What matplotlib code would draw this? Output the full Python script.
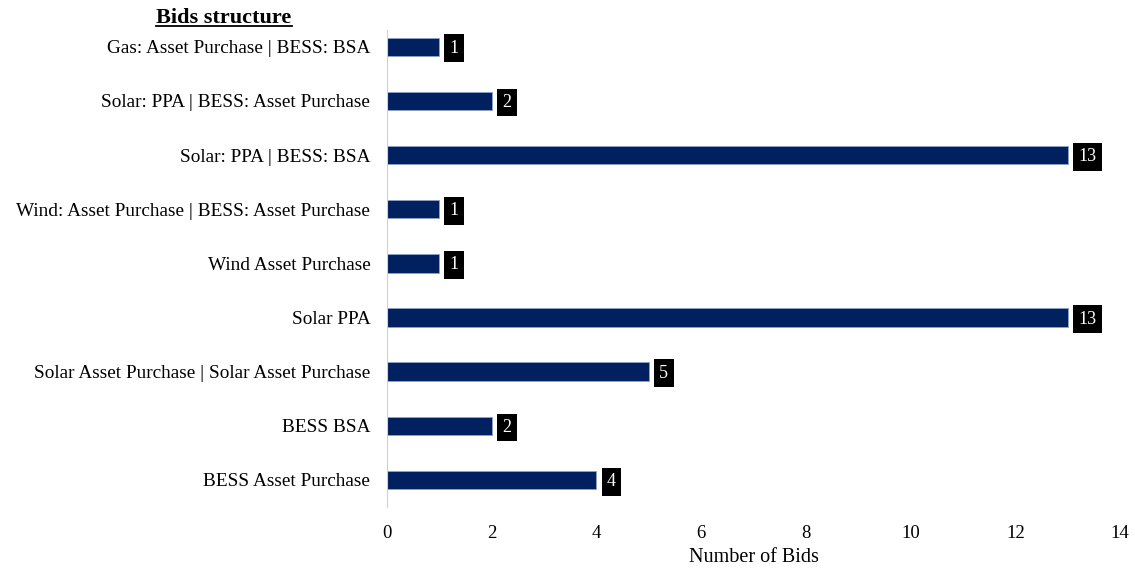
import matplotlib.pyplot as plt
from matplotlib.lines import Line2D

categories = [
    "BESS Asset Purchase",
    "BESS BSA",
    "Solar Asset Purchase | Solar Asset Purchase",
    "Solar PPA",
    "Wind Asset Purchase",
    "Wind: Asset Purchase | BESS: Asset Purchase",
    "Solar: PPA | BESS: BSA",
    "Solar: PPA | BESS: Asset Purchase",
    "Gas: Asset Purchase | BESS: BSA",
]
bids = [4, 2, 5, 13, 1, 1, 13, 2, 1]
xticks = [0, 2, 4, 6, 8, 10, 12, 14]

plt.rcParams['font.family'] = ['Liberation Serif', 'DejaVu Serif']
navy = '#002060'

fig = plt.figure(figsize=(11.35, 5.71), dpi=100)
ax = fig.add_axes([0.341, 0.112, 0.6458, 0.8355])

ypos = range(len(categories))
ax.barh(ypos, bids, height=0.34, color=navy, edgecolor='#8ea3c8', linewidth=0.6)
for y, v in zip(ypos, bids):
    ax.text(v + 0.2, y - 0.03, str(v), ha='left', va='center', color='white',
            fontsize=13,
            bbox=dict(boxstyle='square,pad=0.3', fc='black', ec='none'))

ax.set_yticks(list(ypos))
ax.set_yticklabels(categories, fontsize=13.9)
ax.set_xticks(xticks)
ax.set_xticklabels([str(t) for t in xticks], fontsize=13.5)
ax.set_xlim(0, 14)
ax.set_ylim(-0.5, 8.31)
ax.tick_params(axis='both', length=0)
ax.tick_params(axis='x', pad=13)
ax.tick_params(axis='y', pad=12)
for side in ['top', 'right', 'bottom']:
    ax.spines[side].set_visible(False)
ax.spines['left'].set_color('#d0d0d0')
ax.set_xlabel('Number of Bids', fontsize=14.5, labelpad=4)

# underlined bold heading
title = fig.text(224 / 1135, 1 - 18 / 571, 'Bids structure', ha='center',
                 va='center', fontsize=16, fontweight='bold')
fig.canvas.draw()
bb = title.get_window_extent().transformed(fig.transFigure.inverted())
fig.add_artist(Line2D([bb.x0, bb.x1], [bb.y0 + 0.004, bb.y0 + 0.004],
                      transform=fig.transFigure, color='black', lw=1.3))

fig.savefig('out.png', dpi=100)
